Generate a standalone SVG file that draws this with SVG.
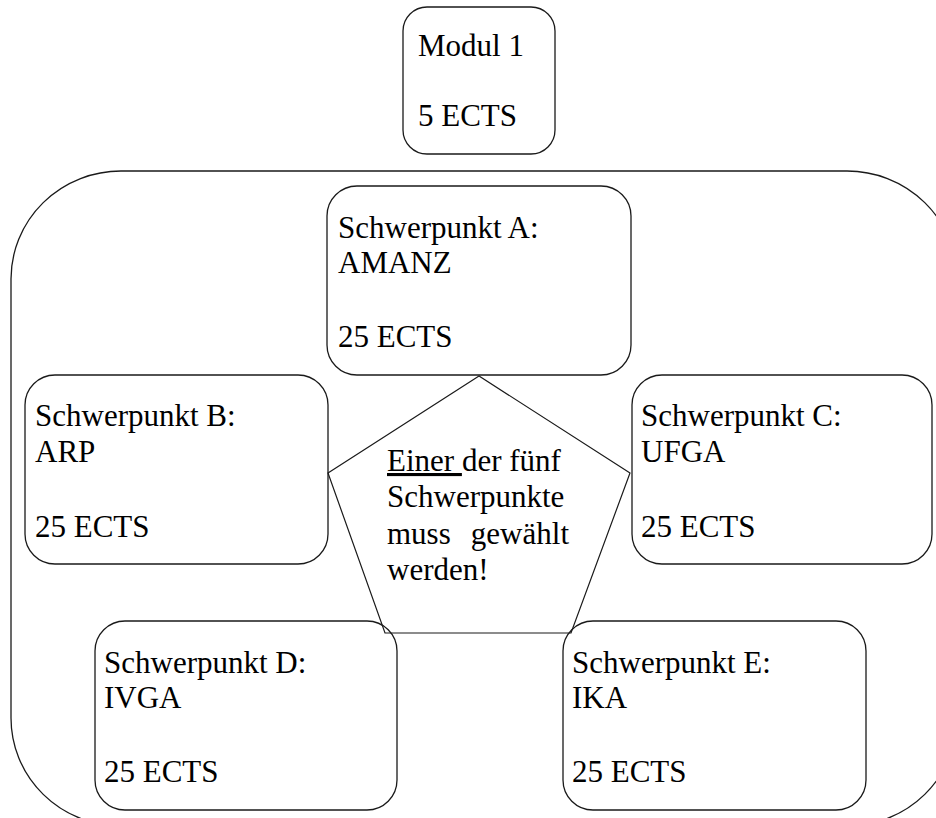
<svg xmlns="http://www.w3.org/2000/svg" width="936" height="818" viewBox="0 0 936 818">
<style>
  .box { fill: none; stroke: #1a1a1a; stroke-width: 1.3; }
  .edge { fill: none; stroke: #1a1a1a; stroke-width: 1.2; }
  text { font-family: "Liberation Serif", "Times New Roman", serif; font-size: 31px; fill: #000; }
</style>
<rect width="936" height="818" fill="#ffffff"/>
<g id="frame">
  <rect class="box" x="11" y="171" width="946" height="655" rx="110" ry="108"/>
</g>
<g id="connectors">
  <polygon class="edge" points="479,376 328,473 385,633 571,633 630,473"/>
</g>
<g id="modul1">
  <rect class="box" x="403" y="7" width="152" height="147" rx="24"/>
  <text x="418" y="56">Modul 1</text>
  <text x="418" y="126">5 ECTS</text>
</g>
<g id="schwerpunkt-a">
  <rect class="box" x="327" y="186" width="304" height="189" rx="30"/>
  <text x="338" y="238">Schwerpunkt A:</text>
  <text x="338" y="273">AMANZ</text>
  <text x="338" y="347">25 ECTS</text>
</g>
<g id="schwerpunkt-b">
  <rect class="box" x="25" y="375" width="303" height="189" rx="30"/>
  <text x="35" y="426">Schwerpunkt B:</text>
  <text x="35" y="462">ARP</text>
  <text x="35" y="537">25 ECTS</text>
</g>
<g id="schwerpunkt-c">
  <rect class="box" x="632" y="375" width="300" height="189" rx="30"/>
  <text x="641" y="426">Schwerpunkt C:</text>
  <text x="641" y="462">UFGA</text>
  <text x="641" y="537">25 ECTS</text>
</g>
<g id="schwerpunkt-d">
  <rect class="box" x="95" y="621" width="302" height="189" rx="30"/>
  <text x="104" y="673">Schwerpunkt D:</text>
  <text x="104" y="708">IVGA</text>
  <text x="104" y="782">25 ECTS</text>
</g>
<g id="schwerpunkt-e">
  <rect class="box" x="563" y="621" width="303" height="189" rx="30"/>
  <text x="572" y="673">Schwerpunkt E:</text>
  <text x="572" y="708">IKA</text>
  <text x="572" y="782">25 ECTS</text>
</g>
<g id="hinweis">
  <text x="387" y="471"><tspan text-decoration="underline">Einer </tspan>der fünf</text>
  <text x="387" y="507">Schwerpunkte</text>
  <text x="387" y="544">muss</text>
  <text x="569" y="544" text-anchor="end">gewählt</text>
  <text x="387" y="580">werden!</text>
</g>
</svg>
